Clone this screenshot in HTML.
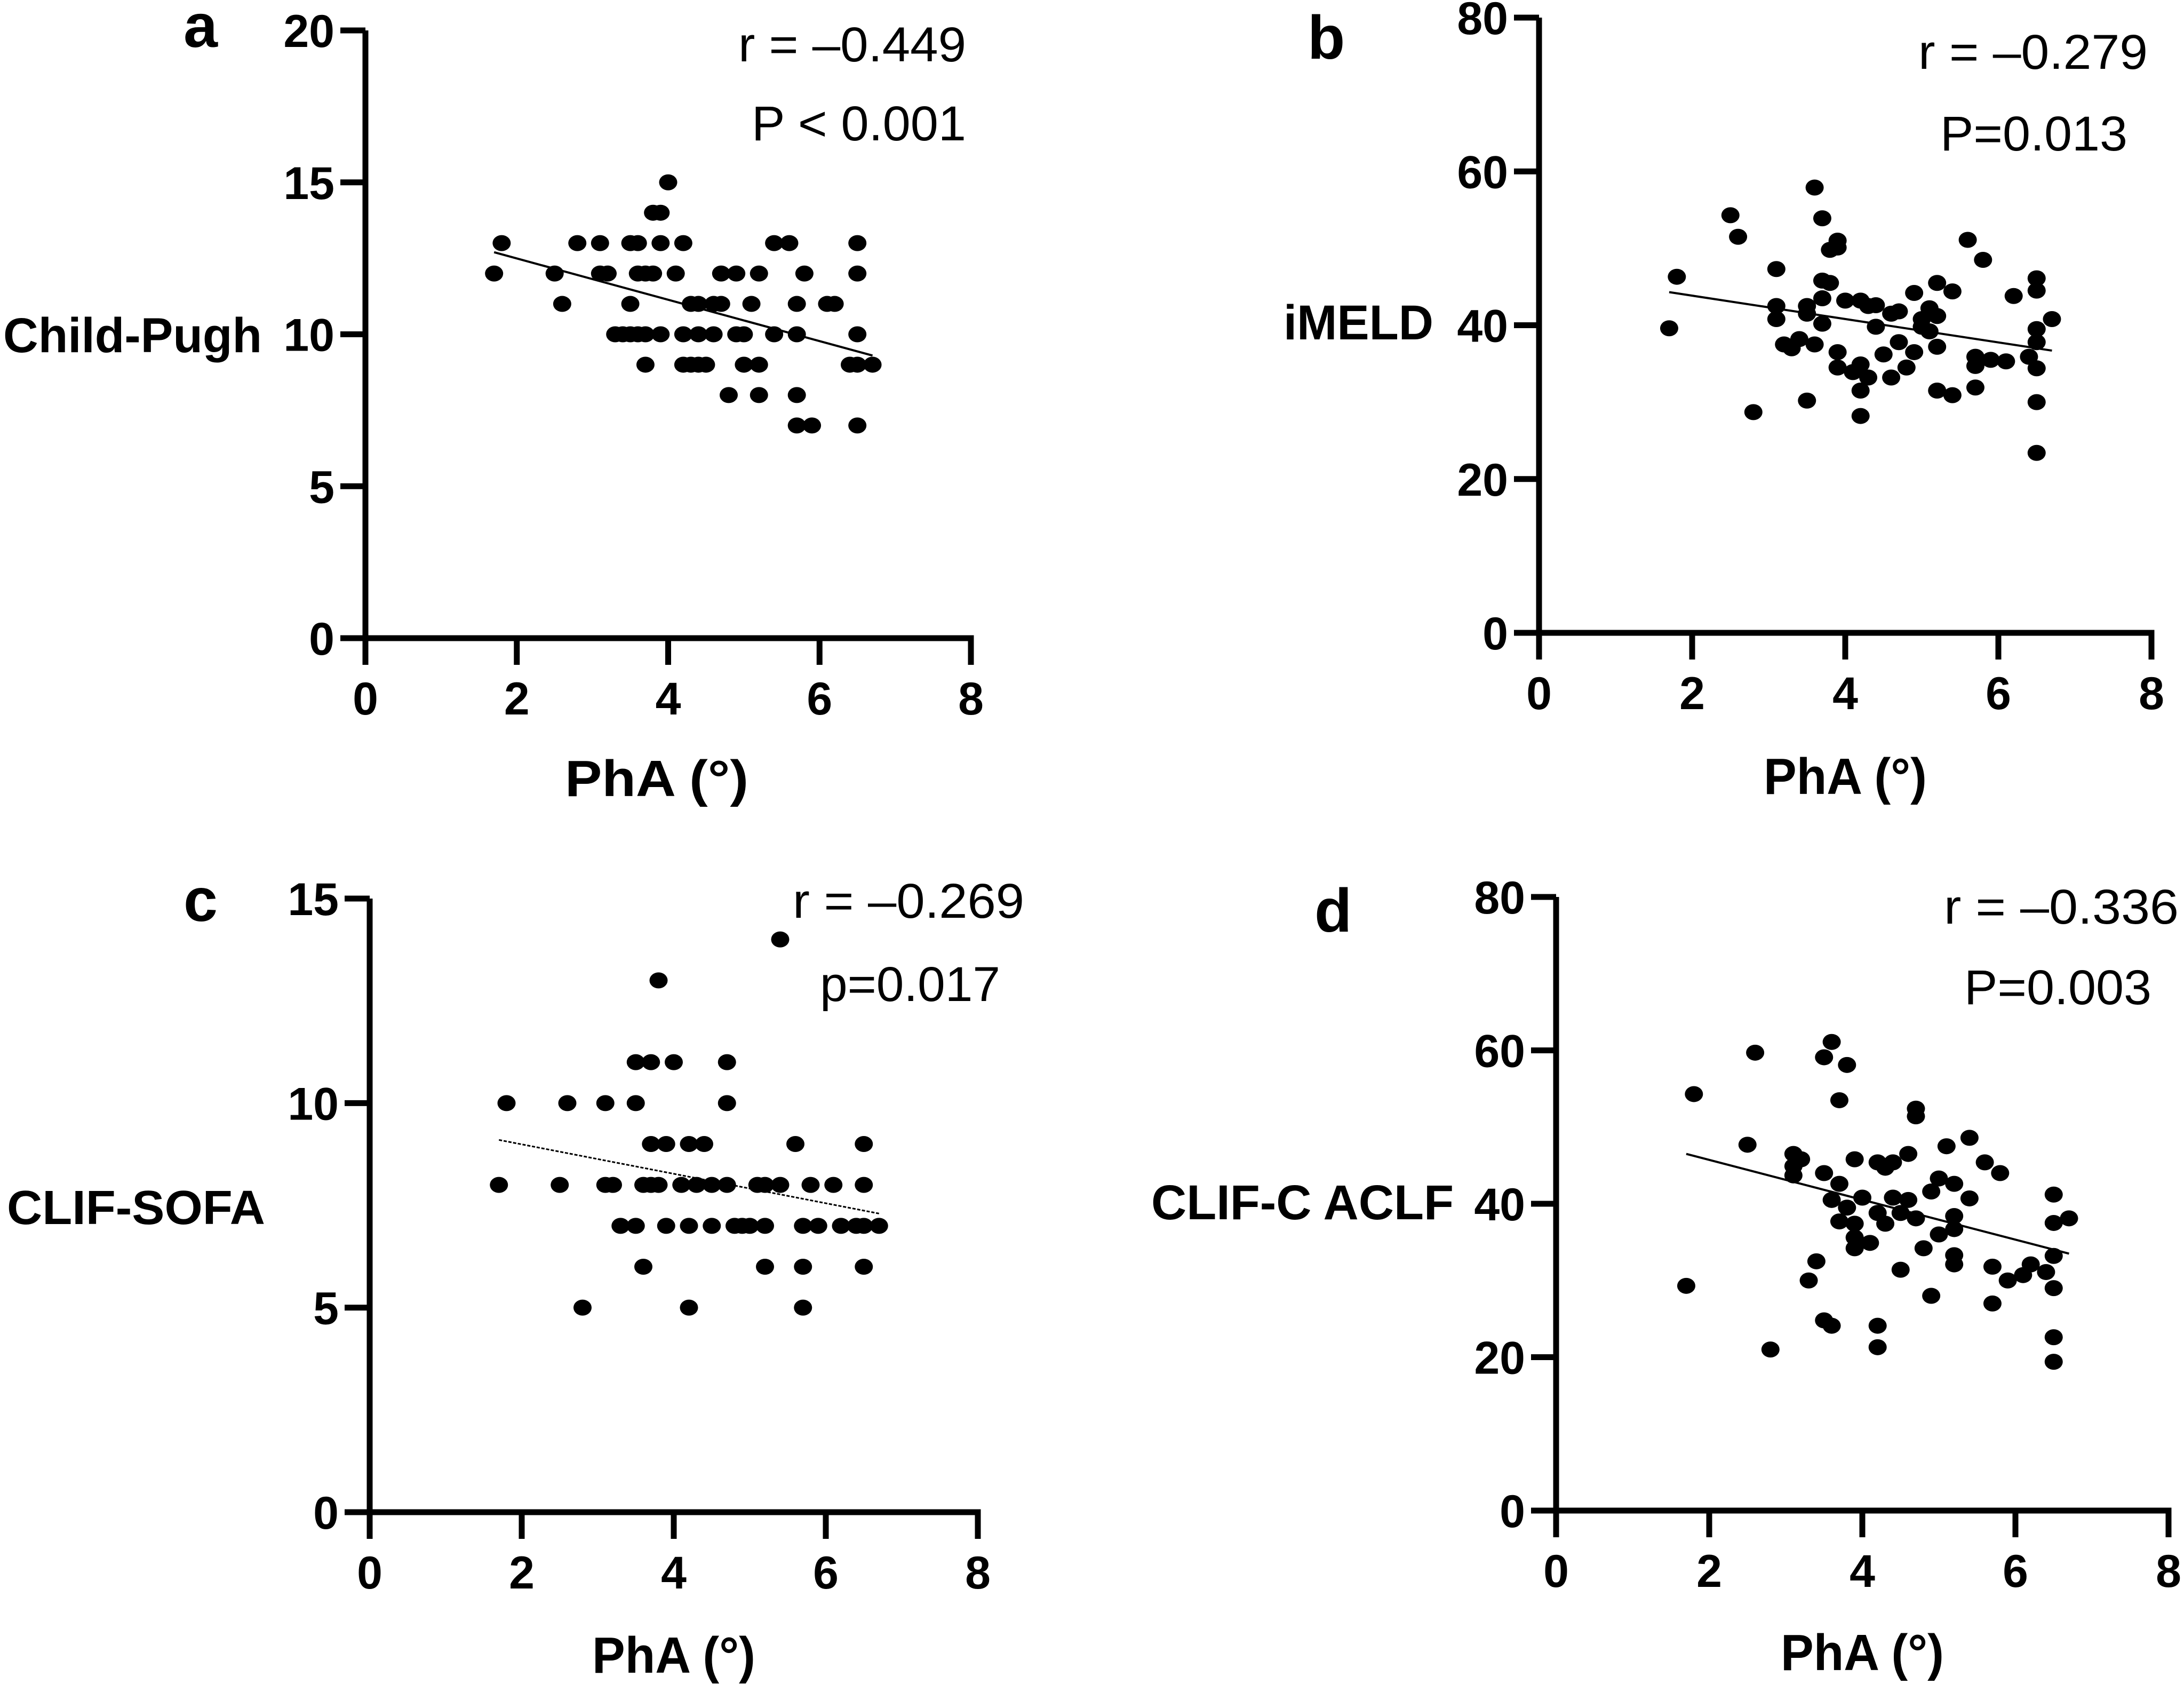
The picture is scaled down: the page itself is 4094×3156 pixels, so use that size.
<!DOCTYPE html>
<html><head><meta charset="utf-8"><style>
html,body{margin:0;padding:0;background:#fff;}
svg{display:block;font-family:"Liberation Sans",Arial,sans-serif;}
</style></head><body>
<svg id="fig" width="4094" height="3156" viewBox="0 0 4094 3156" xmlns="http://www.w3.org/2000/svg">
<rect width="4094" height="3156" fill="#fff"/>
<!-- static text -->
<g font-weight="bold" fill="#000">
<text x="344" y="88" font-size="115">a</text>
<text x="2451" y="110" font-size="115">b</text>
<text x="344" y="1726" font-size="115">c</text>
<text x="2464" y="1746" font-size="115">d</text>
<text x="6" y="660" font-size="92" textLength="485" lengthAdjust="spacingAndGlyphs">Child-Pugh</text>
<text x="2406" y="636" font-size="92" textLength="281" lengthAdjust="spacingAndGlyphs">iMELD</text>
<text x="13" y="2294" font-size="90" textLength="484" lengthAdjust="spacingAndGlyphs">CLIF-SOFA</text>
<text x="2158" y="2285" font-size="92" textLength="567" lengthAdjust="spacingAndGlyphs">CLIF-C ACLF</text>
<text x="1059" y="1492" font-size="96" textLength="344" lengthAdjust="spacingAndGlyphs">PhA (°)</text>
<text x="3306" y="1488" font-size="96" textLength="306" lengthAdjust="spacingAndGlyphs">PhA (°)</text>
<text x="1110" y="3135" font-size="96" textLength="306" lengthAdjust="spacingAndGlyphs">PhA (°)</text>
<text x="3338" y="3130" font-size="96" textLength="306" lengthAdjust="spacingAndGlyphs">PhA (°)</text>
</g>
<g fill="#000" font-size="92">
<text x="1384" y="115" textLength="427" lengthAdjust="spacingAndGlyphs">r = –0.449</text>
<text x="1409" y="263" textLength="402" lengthAdjust="spacingAndGlyphs">P &lt; 0.001</text>
<text x="3596" y="129" textLength="430" lengthAdjust="spacingAndGlyphs">r = –0.279</text>
<text x="3637" y="282" textLength="351" lengthAdjust="spacingAndGlyphs">P=0.013</text>
<text x="1486" y="1720" textLength="434" lengthAdjust="spacingAndGlyphs">r = –0.269</text>
<text x="1537" y="1876" textLength="338" lengthAdjust="spacingAndGlyphs">p=0.017</text>
<text x="3644" y="1731" textLength="440" lengthAdjust="spacingAndGlyphs">r = –0.336</text>
<text x="3682" y="1882" textLength="351" lengthAdjust="spacingAndGlyphs">P=0.003</text>
</g>
</svg>
<script>
// ---- data ----
const xTicks = [0, 2, 4, 6, 8];
const aYTicks = [0, 5, 10, 15, 20];
const bYTicks = [0, 20, 40, 60, 80];
const cYTicks = [0, 5, 10, 15];
const dYTicks = [0, 20, 40, 60, 80];

const aX = [4.0,3.8,3.9,1.8,2.8,3.1,3.5,3.6,3.9,4.2,5.4,5.6,6.5,1.7,2.5,3.1,3.2,3.6,3.7,3.8,4.1,4.7,4.9,5.2,5.8,6.5,2.6,3.5,4.3,4.4,4.6,4.7,5.1,5.7,6.1,6.2,3.3,3.4,3.5,3.6,3.7,3.9,4.2,4.4,4.6,4.9,5.0,5.4,5.7,6.5,3.7,4.2,4.3,4.4,4.5,5.0,5.2,6.4,6.5,6.7,4.8,5.2,5.7,5.7,5.9,6.5];
const aY = [15,14,14,13,13,13,13,13,13,13,13,13,13,12,12,12,12,12,12,12,12,12,12,12,12,12,11,11,11,11,11,11,11,11,11,11,10,10,10,10,10,10,10,10,10,10,10,10,10,10,9,9,9,9,9,9,9,9,9,9,8,8,8,7,7,7];
const aFit = [12.7, 9.3];

const bX = [1.7,1.8,2.5,2.6,2.8,3.1,3.1,3.1,3.2,3.3,3.4,3.5,3.5,3.5,3.6,3.6,3.7,3.7,3.7,3.7,3.8,3.8,3.9,3.9,3.9,3.9,4.0,4.1,4.2,4.2,4.2,4.2,4.3,4.3,4.4,4.4,4.5,4.6,4.6,4.7,4.7,4.8,4.9,4.9,5.0,5.0,5.1,5.1,5.2,5.2,5.2,5.2,5.4,5.4,5.6,5.7,5.7,5.7,5.8,5.9,6.1,6.2,6.4,6.5,6.5,6.5,6.5,6.5,6.5,6.5,6.7];
const bY = [39.6,46.3,54.3,51.5,28.7,47.3,42.5,40.8,37.5,37.0,38.2,30.2,42.5,41.5,57.9,37.5,53.9,43.5,40.2,45.8,45.5,49.8,51.0,50.1,36.5,34.5,43.2,33.9,43.2,34.9,31.5,28.2,33.2,42.5,42.6,39.8,36.2,33.2,41.5,37.8,41.8,34.5,44.2,36.5,39.8,40.8,42.2,39.2,41.2,45.5,37.2,31.5,44.4,30.9,51.1,35.9,34.7,31.9,48.5,35.5,35.3,43.8,35.9,46.1,44.5,39.5,37.8,34.4,30.0,23.4,40.8];
const bFit = [44.3, 36.7];

const cX = [1.8,2.6,3.1,3.5,4.7,3.5,3.7,4.0,4.7,3.8,5.4,3.7,3.9,4.2,4.4,5.6,6.5,1.7,2.5,3.1,3.2,3.6,3.7,3.8,4.1,4.3,4.5,4.7,5.1,5.2,5.4,5.8,6.1,6.5,3.3,3.5,3.9,4.2,4.5,4.8,4.9,5.0,5.2,5.7,5.9,6.2,6.4,6.5,6.7,3.6,5.2,5.7,6.5,2.8,4.2,5.7];
const cY = [10,10,10,10,10,11,11,11,11,13,14,9,9,9,9,9,9,8,8,8,8,8,8,8,8,8,8,8,8,8,8,8,8,8,7,7,7,7,7,7,7,7,7,7,7,7,7,7,7,6,6,6,6,5,5,5];
const cFit = [9.1, 7.3];

const dX = [1.7,1.8,2.5,2.6,2.8,3.1,3.1,3.1,3.2,3.3,3.4,3.5,3.5,3.5,3.6,3.6,3.6,3.7,3.7,3.7,3.8,3.8,3.9,3.9,3.9,3.9,4.0,4.1,4.2,4.2,4.2,4.2,4.3,4.3,4.4,4.4,4.5,4.5,4.6,4.6,4.7,4.7,4.7,4.8,4.9,4.9,5.0,5.0,5.1,5.2,5.2,5.2,5.2,5.2,5.4,5.4,5.6,5.7,5.7,5.8,5.9,6.1,6.2,6.4,6.5,6.5,6.5,6.5,6.5,6.5,6.7];
const dY = [29.3,54.3,47.7,59.7,21.0,46.5,44.9,43.7,45.8,30.0,32.5,59.1,24.8,44.0,61.1,40.5,24.1,53.5,42.6,37.7,58.1,39.5,45.8,37.4,35.6,34.2,40.8,34.9,45.4,38.8,24.1,21.3,37.4,44.7,45.4,40.8,38.8,31.4,46.5,40.5,52.4,51.4,38.1,34.2,41.6,28.0,43.3,36.0,47.5,38.4,36.7,33.3,32.1,42.6,48.6,40.7,45.4,31.8,27.0,44.0,30.0,30.7,32.1,31.1,41.2,37.5,33.2,29.0,22.6,19.4,38.1];
const dFit = [46.5, 33.5];
const fitX = [1.7, 6.7];

// ---- drawing ----
const NS = 'http://www.w3.org/2000/svg';
const svg = document.getElementById('fig');
function mk(tag, attrs, parent) {
  const e = document.createElementNS(NS, tag);
  for (const k in attrs) e.setAttribute(k, attrs[k]);
  parent.appendChild(e);
  return e;
}
function panel(id, box, yTicks, xs, ys, fit, dashed) {
  const sx = v => box.x0 + (v - 0) / 8 * (box.x8 - box.x0);
  const yMax = yTicks[yTicks.length - 1];
  const sy = v => box.y0 - v / yMax * (box.y0 - box.yTop);
  const g = mk('g', {}, svg);
  
  
  // axes
  const ya = mk('line', {x1: box.x0, y1: box.yTop, x2: box.x0, y2: box.y0 + 5.5, stroke: '#000', 'stroke-width': 11}, g);
  
  
  const xa = mk('line', {x1: box.x0 - 5.5, y1: box.y0, x2: box.x8 + 5.5, y2: box.y0, stroke: '#000', 'stroke-width': 11}, g);
  
  
  yTicks.forEach(t => {
    const y = sy(t);
    const tk = mk('line', {x1: box.x0 - 47, y1: y, x2: box.x0, y2: y, stroke: '#000', 'stroke-width': 11}, g);
    
    
    const lb = mk('text', {x: box.x0 - 58, y: y + 31, 'text-anchor': 'end', 'font-size': 86, 'font-weight': 'bold'}, g);
    lb.textContent = t;
    
    
  });
  xTicks.forEach(t => {
    const x = sx(t);
    const tk = mk('line', {x1: x, y1: box.y0, x2: x, y2: box.y0 + 50, stroke: '#000', 'stroke-width': 11}, g);
    
    
    const lb = mk('text', {x: x, y: box.y0 + 143, 'text-anchor': 'middle', 'font-size': 86, 'font-weight': 'bold'}, g);
    lb.textContent = t;
    
    
  });
  xs.forEach((v, i) => {
    const c = mk('ellipse', {cx: sx(v), cy: sy(ys[i]), rx: 17, ry: 15, fill: '#000'}, g);
    
    
  });
  const ln = mk('line', {x1: sx(fitX[0]), y1: sy(fit[0]), x2: sx(fitX[1]), y2: sy(fit[1]), stroke: '#000', 'stroke-width': dashed ? 3 : 4}, g);
  if (dashed) ln.setAttribute('stroke-dasharray', '6 3');
  
  
}
panel('a', {x0: 685, x8: 1820, y0: 1196, yTop: 57}, aYTicks, aX, aY, aFit, false);
panel('b', {x0: 2885, x8: 4033, y0: 1186, yTop: 33}, bYTicks, bX, bY, bFit, false);
panel('c', {x0: 693, x8: 1833, y0: 2834, yTop: 1684}, cYTicks, cX, cY, cFit, true);
panel('d', {x0: 2917, x8: 4065, y0: 2831, yTop: 1681}, dYTicks, dX, dY, dFit, false);
</script>
</body></html>
